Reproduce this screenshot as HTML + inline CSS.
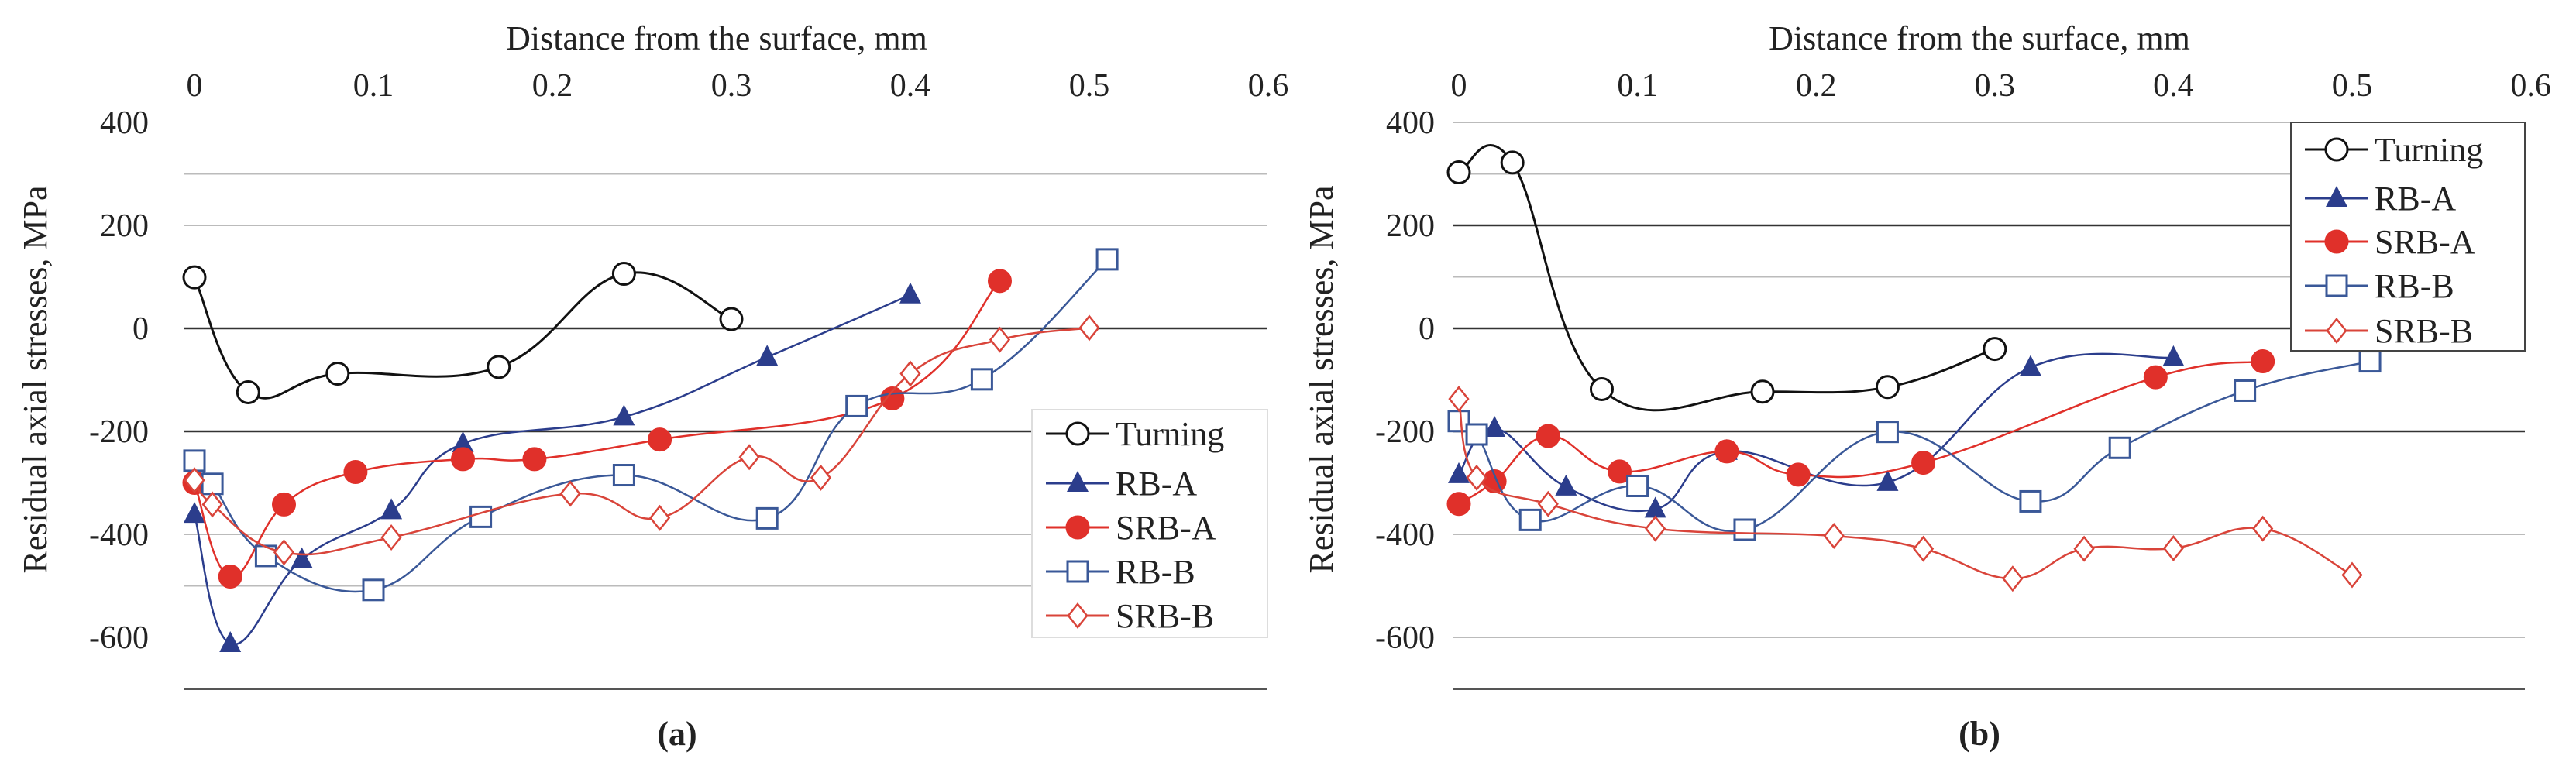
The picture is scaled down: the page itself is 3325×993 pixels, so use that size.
<!DOCTYPE html>
<html><head><meta charset="utf-8"><style>
html,body{margin:0;padding:0;background:#fff;}
svg{display:block;font-family:"Liberation Serif",serif;}
</style></head><body>
<svg id="fig" width="3325" height="993" viewBox="0 0 3325 993"></svg>
<script>
const xTicks=[0,0.1,0.2,0.3,0.4,0.5,0.6];
const yTicks=[400,200,0,-200,-400,-600];
const seriesNames=["Turning","RB-A","SRB-A","RB-B","SRB-B"];
// panel a
const aTurnX=[0,0.03,0.08,0.17,0.24,0.30];
const aTurnY=[99,-124,-88,-75,106,18];
const aRbaX=[0,0.02,0.06,0.11,0.15,0.24,0.32,0.40];
const aRbaY=[-361,-612,-449,-354,-224,-172,-56,65];
const aSrbaX=[0,0.02,0.05,0.09,0.15,0.19,0.26,0.39,0.45];
const aSrbaY=[-300,-482,-342,-279,-254,-254,-216,-136,92];
const aRbbX=[0,0.01,0.04,0.10,0.16,0.24,0.32,0.37,0.44,0.51];
const aRbbY=[-257,-302,-442,-508,-366,-285,-369,-151,-99,134];
const aSrbbX=[0,0.01,0.05,0.11,0.21,0.26,0.31,0.35,0.40,0.45,0.50];
const aSrbbY=[-295,-342,-435,-406,-321,-368,-250,-290,-88,-22,1];
// panel b
const bTurnX=[0,0.03,0.08,0.17,0.24,0.30];
const bTurnY=[303,322,-118,-123,-114,-40];
const bRbaX=[0,0.02,0.06,0.11,0.15,0.24,0.32,0.40];
const bRbaY=[-284,-194,-308,-351,-239,-299,-76,-57];
const bSrbaX=[0,0.02,0.05,0.09,0.15,0.19,0.26,0.39,0.45];
const bSrbaY=[-341,-297,-209,-278,-239,-284,-261,-95,-64];
const bRbbX=[0,0.01,0.04,0.10,0.16,0.24,0.32,0.37,0.44,0.51];
const bRbbY=[-180,-206,-372,-306,-391,-201,-336,-232,-121,-64];
const bSrbbX=[0,0.01,0.05,0.11,0.21,0.26,0.31,0.35,0.40,0.45,0.50];
const bSrbbY=[-137,-290,-341,-389,-403,-428,-486,-428,-427,-389,-479];

const NS="http://www.w3.org/2000/svg";
const svg=document.getElementById('fig');
function el(tag,attrs,parent,text){const e=document.createElementNS(NS,tag);for(const k in attrs)e.setAttribute(k,attrs[k]);if(text!==undefined)e.textContent=text;(parent||svg).appendChild(e);return e;}
const styles=[
 {c:"#111",m:"circle",fill:"#fff",w:3},
 {c:"#2b3d8c",m:"tri",fill:"#2b3d8c",w:3},
 {c:"#e0302a",m:"dot",fill:"#e0302a",w:3},
 {c:"#3a5898",m:"square",fill:"#fff",w:3},
 {c:"#d9443a",m:"diamond",fill:"#fff",w:3}];
function marker(g,k,x,y){
 const s=styles[k];let e;
 if(s.m==="circle")e=el('circle',{cx:x,cy:y,r:14,fill:"#fff",stroke:s.c,'stroke-width':3},g);
 else if(s.m==="dot")e=el('circle',{cx:x,cy:y,r:15,fill:s.c,stroke:s.c,'stroke-width':1},g);
 else if(s.m==="tri")e=el('polygon',{points:`${x},${y-16} ${x+14},${y+11} ${x-14},${y+11}`,fill:s.c},g);
 else if(s.m==="square")e=el('rect',{x:x-13,y:y-13,width:26,height:26,fill:"#fff",stroke:s.c,'stroke-width':3},g);
 else e=el('polygon',{points:`${x},${y-15} ${x+12},${y} ${x},${y+15} ${x-12},${y}`,fill:"#fff",stroke:s.c,'stroke-width':2.5},g);
 
 
}
function smooth(p){
 if(p.length<2)return "";
 let d=`M${p[0][0]},${p[0][1]}`;
 for(let i=0;i<p.length-1;i++){
  const p0=p[i-1]||p[i],p1=p[i],p2=p[i+1],p3=p[i+2]||p[i+1];
  const t=0.2;
  const c1=[p1[0]+(p2[0]-p0[0])*t,p1[1]+(p2[1]-p0[1])*t];
  const c2=[p2[0]-(p3[0]-p1[0])*t,p2[1]-(p3[1]-p1[1])*t];
  d+=` C${c1[0]},${c1[1]} ${c2[0]},${c2[1]} ${p2[0]},${p2[1]}`;
 }
 return d;
}
function panel(cfg){
 const g=el('g',{});
 
 
 const X=v=>cfg.x0+v/0.1*cfg.px;
 const Y=v=>424-v/200*133;
 // gridlines
 cfg.grid.forEach(v=>{
  const dark=(cfg.dark.indexOf(v)>=0);
  const l=el('line',{x1:cfg.gx0,x2:cfg.gx1,y1:Y(v),y2:Y(v),stroke:dark?"#333":"#bbb",'stroke-width':dark?2.5:2},g);
  
  
 });
 const b=el('line',{x1:cfg.gx0,x2:cfg.gx1,y1:Y(-700),y2:Y(-700),stroke:"#555",'stroke-width':3},g);
 
 
 // ticks
 xTicks.forEach(v=>{
  const t=el('text',{x:X(v),y:124,'font-size':42,'text-anchor':'middle',fill:"#222"},g,v===0?"0":v.toFixed(1));
  
  
 });
 yTicks.forEach(v=>{
  const t=el('text',{x:cfg.yl,y:Y(v)+14,'font-size':42,'text-anchor':'end',fill:"#222"},g,v<0?"-"+(-v):String(v));
  
  
 });
 const xt=el('text',{x:cfg.tx,y:64,'font-size':44,'text-anchor':'middle',fill:"#222"},g,"Distance from the surface, mm");
 
 
 const yt=el('text',{x:0,y:0,'font-size':44,'text-anchor':'middle',fill:"#222",transform:`translate(${cfg.ytx},490) rotate(-90)`},g,"Residual axial stresses, MPa");
 
 
 // series
 cfg.data.forEach((s,k)=>{
  const pts=s[0].map((x,i)=>[X(x),Y(s[1][i])]);
  const sg=el('g',{},g);
  
  
  const p=el('path',{d:smooth(pts),fill:"none",stroke:styles[k].c,'stroke-width':k===0?3:2.5},sg);
  
  
  pts.forEach(q=>marker(sg,k,q[0],q[1]));
 });
 // legend
 const lg=el('g',{},g);
 
 
 el('rect',{x:cfg.lx,y:cfg.ly,width:cfg.lw,height:cfg.lh,fill:"#fff",stroke:cfg.lborder,'stroke-width':2},lg);
 seriesNames.forEach((n,k)=>{
  const ey=cfg.ley[k];
  const eg=el('g',{},lg);
  
  
  el('line',{x1:cfg.lx+18,x2:cfg.lx+100,y1:ey,y2:ey,stroke:styles[k].c,'stroke-width':3},eg);
  marker(eg,k,cfg.lx+59,ey);
  el('text',{x:cfg.lx+108,y:ey+15,'font-size':44,fill:"#222"},eg,n);
 });
 const cap=el('text',{x:cfg.cx,y:962,'font-size':44,'font-weight':'bold','text-anchor':'middle',fill:"#222"},g,cfg.cap);
 
 
}
panel({name:'panel-a',x0:251,px:231,gx0:238,gx1:1636,yl:192,tx:925,ytx:60,
 grid:[300,200,0,-200,-400,-500],dark:[0,-200],
 data:[[aTurnX,aTurnY],[aRbaX,aRbaY],[aSrbaX,aSrbaY],[aRbbX,aRbbY],[aSrbbX,aSrbbY]],
 lx:1332,ly:529,lw:304,lh:294,lborder:"#ddd",ley:[560,624,681,738,795],cx:874,cap:"(a)"});
panel({name:'panel-b',x0:1883,px:230.6,gx0:1875,gx1:3259,yl:1852,tx:2555,ytx:1720,
 grid:[400,300,200,100,0,-200,-400,-600],dark:[200,0,-200],
 data:[[bTurnX,bTurnY],[bRbaX,bRbaY],[bSrbaX,bSrbaY],[bRbbX,bRbbY],[bSrbbX,bSrbbY]],
 lx:2957,ly:158,lw:302,lh:295,lborder:"#444",ley:[193,256,312,369,427],cx:2555,cap:"(b)"});
</script>
</body></html>
